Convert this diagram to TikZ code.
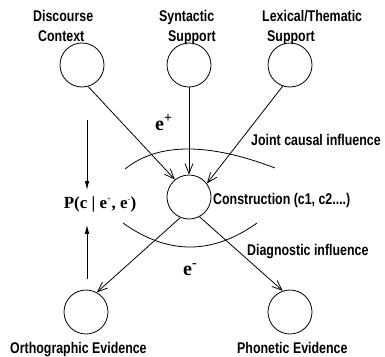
\documentclass[tikz,border=0pt]{standalone}
\usepackage{fontspec}
\setmainfont{Liberation Sans}[FakeStretch=0.8]
\newfontfamily\evfont{Liberation Serif}
\usetikzlibrary{arrows.meta}
\tikzset{
  var/.style={draw, circle, minimum size=44pt, inner sep=0pt, line width=0.8pt},
  lbl/.style={anchor=base west, inner sep=0pt, font=\fontsize{15.5}{18}\selectfont\bfseries},
  evlbl/.style={anchor=base west, inner sep=0pt, font=\evfont\bfseries\fontsize{20}{22}\selectfont},
  infl/.style={line width=0.8pt, -{Straight Barb[length=10pt,width=8pt]}},
  probarrow/.style={line width=0.8pt, -{Latex[length=9pt,width=4.5pt]}},
}

\begin{document}
\begin{tikzpicture}[x=1pt, y=-1pt]
  \useasboundingbox (0,0) rectangle (385,356);

  % Support nodes
  \node[var] (disc) at (82,65) {};
  \node[var] (syn) at (189,65) {};
  \node[var] (lex) at (290,65) {};
  \node[lbl] (disclbl) at (33,21) {Discourse};
  \node[lbl] (disclbltwo) at (38,41) {Context};
  \node[lbl] (synlbl) at (159,21) {Syntactic};
  \node[lbl] (synlbltwo) at (168,41) {Support};
  \node[lbl] (lexlbl) at (262,21) {Lexical/Thematic};
  \node[lbl] (lexlbltwo) at (267,41) {Support};

  % Construction
  \node[var] (cons) at (189,197) {};
  \node[lbl] (conslbl) at (213,204) {Construction (c1, c2....)};

  % Evidence nodes
  \node[var] (orth) at (86,312) {};
  \node[var] (phon) at (290,312) {};
  \node[lbl] (orthlbl) at (10,353) {Orthographic Evidence};
  \node[lbl] (phonlbl) at (237,353) {Phonetic Evidence};

  % Influence arrows
  \draw[infl] (disc.-74) -- (cons.129);
  \draw[infl] (syn) -- (cons);
  \draw[infl] (lex.-109) -- (cons.37);
  \draw[infl] (cons.247) -- (orth.61);
  \draw[infl] (cons.298) -- (phon.109);

  % Arcs
  \draw[line width=0.8pt] (125,169) .. controls (157.7,142.7) and (207.7,142.3) .. (275,168);
  \draw[line width=0.8pt] (123,223) .. controls (167.7,255) and (212.3,255) .. (257,223);
  \node[lbl] (jointlbl) at (251,145) {Joint causal influence};
  \node[lbl] (diaglbl) at (247,255) {Diagnostic influence};
  \node[evlbl] (eplus) at (155,130) {e\textsuperscript{+}};
  \node[evlbl] (eminus) at (183,275) {e\textsuperscript{-}};

  % Posterior
  \node[anchor=base, inner sep=2pt, font=\evfont\bfseries\fontsize{17}{19}\selectfont] (prob) at (100,208)
    {P(c | e\textsuperscript{\mdseries\scriptsize +}, e\textsuperscript{\mdseries\scriptsize -})};
  \coordinate (ptop) at (87,120);
  \coordinate (pbot) at (87,279);
  \draw[probarrow, shorten >=4pt] (ptop) -- (ptop |- prob.north);
  \draw[probarrow, shorten >=11pt] (pbot) -- (pbot |- prob.south);
\end{tikzpicture}
\end{document}
